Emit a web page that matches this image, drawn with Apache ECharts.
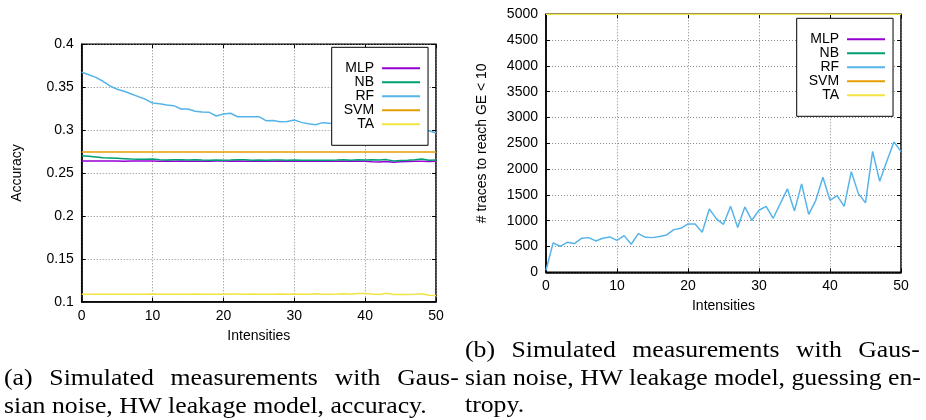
<!DOCTYPE html>
<html>
<head>
<meta charset="utf-8">
<title>Accuracy / GE</title>
<script src="https://cdn.jsdelivr.net/npm/echarts@6/dist/echarts.min.js"></script>
<style>
    body{margin:0;background:#fff;}
    #tb{position:absolute;left:0;top:0;width:926px;height:420px;}
    .cap{position:absolute;width:406px;font-family:"Liberation Serif",serif;font-size:23px;line-height:27.5px;color:#000;transform:scaleX(1.12);transform-origin:0 0;}
    .cap .j{text-align:justify;text-align-last:justify;white-space:nowrap;}
    .cap .l{text-align:left;white-space:nowrap;}
</style>
</head>
<body>
<div id="tb"></div>
<div class="cap" style="left:4px;top:364px;">
    <div class="j">(a) Simulated measurements with Gaus-</div>
    <div class="l">sian noise, HW leakage model, accuracy.</div>
</div>
<div class="cap" style="left:465px;top:336px;">
    <div class="j">(b) Simulated measurements with Gaus-</div>
    <div class="j">sian noise, HW leakage model, guessing en-</div>
    <div class="l">tropy.</div>
</div>
<script>
// 数据
var intensity = [0,1,2,3,4,5,6,7,8,9,10,11,12,13,14,15,16,17,18,19,20,21,22,23,24,25,26,27,28,29,30,31,32,33,34,35,36,37,38,39,40,41,42,43,44,45,46,47,48,49,50];
var names = ['MLP','NB','RF','SVM','TA'];
var colors = ['#9400d3','#009e73','#56b4e9','#e69f00','#f0e442'];

// (a) accuracy
var mlpAcc = [0.2640,0.2640,0.2639,0.2640,0.2641,0.2640,0.2638,0.2640,0.2641,0.2639,0.2640,0.2638,0.2640,0.2637,0.2639,0.2638,0.2637,0.2636,0.2638,0.2640,0.2639,0.2637,0.2639,0.2638,0.2637,0.2640,0.2638,0.2636,0.2639,0.2638,0.2636,0.2637,0.2638,0.2636,0.2639,0.2637,0.2636,0.2638,0.2637,0.2636,0.2638,0.2632,0.2628,0.2634,0.2624,0.2630,0.2633,0.2636,0.2638,0.2634,0.2637];
var nbAcc = [0.2701,0.2694,0.2686,0.2678,0.2675,0.2671,0.2667,0.2663,0.2660,0.2659,0.2662,0.2655,0.2652,0.2654,0.2653,0.2652,0.2654,0.2651,0.2650,0.2652,0.2649,0.2651,0.2655,0.2653,0.2650,0.2652,0.2649,0.2651,0.2652,0.2650,0.2652,0.2649,0.2650,0.2648,0.2650,0.2649,0.2651,0.2654,0.2650,0.2655,0.2651,0.2653,0.2652,0.2656,0.2640,0.2646,0.2648,0.2655,0.2663,0.2648,0.2652];
var rfAcc = [0.3674,0.3646,0.3615,0.3569,0.3514,0.3476,0.3452,0.3421,0.3390,0.3359,0.3316,0.3308,0.3293,0.3285,0.3246,0.3246,0.3219,0.3211,0.3207,0.3164,0.3188,0.3196,0.3156,0.3156,0.3156,0.3156,0.3110,0.3113,0.3098,0.3100,0.3118,0.3090,0.3075,0.3063,0.3087,0.3080,0.3074,0.3068,0.3060,0.3055,0.3048,0.3040,0.3035,0.3028,0.3020,0.3015,0.3010,0.3004,0.2998,0.2993,0.2966];
var svmAcc = [0.2745,0.2745,0.2745,0.2745,0.2745,0.2745,0.2745,0.2745,0.2745,0.2745,0.2745,0.2745,0.2745,0.2745,0.2745,0.2745,0.2745,0.2745,0.2745,0.2745,0.2745,0.2745,0.2745,0.2745,0.2745,0.2745,0.2745,0.2745,0.2745,0.2745,0.2745,0.2745,0.2745,0.2745,0.2745,0.2745,0.2745,0.2745,0.2745,0.2745,0.2745,0.2745,0.2745,0.2745,0.2745,0.2745,0.2745,0.2745,0.2745,0.2745,0.2745];
var taAcc = [0.1088,0.1088,0.1088,0.1087,0.1087,0.1088,0.1088,0.1087,0.1088,0.1088,0.1089,0.1088,0.1086,0.1087,0.1088,0.1088,0.1089,0.1088,0.1087,0.1087,0.1088,0.1090,0.1089,0.1088,0.1089,0.1087,0.1086,0.1088,0.1090,0.1087,0.1089,0.1088,0.1086,0.1093,0.1087,0.1088,0.1090,0.1093,0.1086,0.1096,0.1096,0.1090,0.1085,0.1099,0.1084,0.1084,0.1085,0.1088,0.1092,0.1076,0.1072];

// (b) traces to reach GE < 10
var mlpGE = [5000,5000,5000,5000,5000,5000,5000,5000,5000,5000,5000,5000,5000,5000,5000,5000,5000,5000,5000,5000,5000,5000,5000,5000,5000,5000,5000,5000,5000,5000,5000,5000,5000,5000,5000,5000,5000,5000,5000,5000,5000,5000,5000,5000,5000,5000,5000,5000,5000,5000,5000];
var nbGE = [5000,5000,5000,5000,5000,5000,5000,5000,5000,5000,5000,5000,5000,5000,5000,5000,5000,5000,5000,5000,5000,5000,5000,5000,5000,5000,5000,5000,5000,5000,5000,5000,5000,5000,5000,5000,5000,5000,5000,5000,5000,5000,5000,5000,5000,5000,5000,5000,5000,5000,5000];
var rfGE = [40,570,504,581,556,659,672,608,659,686,620,711,543,750,678,672,692,724,827,853,938,938,775,1228,1035,930,1279,866,1267,1008,1202,1279,1047,1331,1616,1190,1713,1124,1395,1841,1395,1486,1279,1951,1525,1345,2345,1763,2151,2527,2339];
var svmGE = [5000,5000,5000,5000,5000,5000,5000,5000,5000,5000,5000,5000,5000,5000,5000,5000,5000,5000,5000,5000,5000,5000,5000,5000,5000,5000,5000,5000,5000,5000,5000,5000,5000,5000,5000,5000,5000,5000,5000,5000,5000,5000,5000,5000,5000,5000,5000,5000,5000,5000,5000];
var taGE = [5000,5000,5000,5000,5000,5000,5000,5000,5000,5000,5000,5000,5000,5000,5000,5000,5000,5000,5000,5000,5000,5000,5000,5000,5000,5000,5000,5000,5000,5000,5000,5000,5000,5000,5000,5000,5000,5000,5000,5000,5000,5000,5000,5000,5000,5000,5000,5000,5000,5000,5000];

var xTicks = [0,10,20,30,40,50];

var FONT = 'Liberation Sans';

function pairs(ys){
    var out = [];
    for(var i=0;i<intensity.length;i++){
        out.push([intensity[i], ys[i]]);
    }
    return out;
}

function xAx(gi, main){
    return {
        type:'value', gridIndex:gi, min:xTicks[0], max:xTicks[xTicks.length-1], interval:10,
        position: main ? 'bottom' : 'top',
        name: main ? 'Intensities' : '', nameLocation:'middle', nameGap:27,
        nameTextStyle:{fontFamily:FONT, fontSize:14, color:'#000'},
        axisLine:{show:main, onZero:false, lineStyle:{color:'#000', width:1.5}},
        axisTick:{show:true, inside:true, length:4, lineStyle:{color:'#000'}},
        axisLabel:{show:main, margin:7, fontFamily:FONT, fontSize:14, color:'#000'},
        splitLine:{show:main, lineStyle:{color:'#888', type:[1,2], width:1}}
    };
}
function yAx(gi, main, min, max, step, title, gap, fmt){
    return {
        type:'value', gridIndex:gi, min:min, max:max, interval:step,
        position: main ? 'left' : 'right',
        name: main ? title : '', nameLocation:'middle', nameGap:gap,
        nameTextStyle:{fontFamily:FONT, fontSize:14, color:'#000'},
        axisLine:{show:main, onZero:false, lineStyle:{color:'#000', width:1.5}},
        axisTick:{show:true, inside:true, length:4, lineStyle:{color:'#000'}},
        axisLabel:{show:main, margin:8, fontFamily:FONT, fontSize:14, color:'#000', formatter:fmt},
        splitLine:{show:main, lineStyle:{color:'#888', type:[1,2], width:1}}
    };
}
function legendAt(l, t){
    return {
        orient:'vertical', left:l, top:t, align:'right', icon:'rect',
        itemWidth:38, itemHeight:2, itemGap:0,
        padding:[14,8,14,12],
        backgroundColor:'#fff', borderColor:'#000', borderWidth:1,
        textStyle:{fontFamily:FONT, fontSize:14, color:'#000', lineHeight:14, padding:[0,3,0,0]},
        data:names
    };
}
function line(name, idx, gi, ys){
    return {
        type:'line', name:name, xAxisIndex:gi*2, yAxisIndex:gi*2,
        data:pairs(ys), showSymbol:false, symbol:'none',
        lineStyle:{width:1.5, color:colors[idx]}, itemStyle:{color:colors[idx]},
        emphasis:{disabled:true}
    };
}

var myChart = echarts.init(document.getElementById('tb'), null, {renderer:'canvas'});
var option = {
    animation:false,
    color:colors,
    grid:[
        {left:81.7, top:44.3, width:354.3, height:257.4, show:true, borderColor:'#000', borderWidth:1.5, outerBoundsMode:'none'},
        {left:546, top:14.3, width:355, height:258, show:true, borderColor:'#000', borderWidth:1.5, outerBoundsMode:'none'}
    ],
    xAxis:[xAx(0,true), xAx(0,false), xAx(1,true), xAx(1,false)],
    yAxis:[
        yAx(0,true,0.1,0.4,0.05,'Accuracy',58,function(v){return String(+v.toFixed(2));}),
        yAx(0,false,0.1,0.4,0.05,'',0,null),
        yAx(1,true,0,5000,500,'# traces to reach GE < 10',57,function(v){return String(v);}),
        yAx(1,false,0,5000,500,'',0,null)
    ],
    legend:[legendAt(331.7,47.3), legendAt(796.7,18.3)],
    series:[
        line('MLP',0,0,mlpAcc), line('NB',1,0,nbAcc), line('RF',2,0,rfAcc), line('SVM',3,0,svmAcc), line('TA',4,0,taAcc),
        line('MLP',0,1,mlpGE), line('NB',1,1,nbGE), line('RF',2,1,rfGE), line('SVM',3,1,svmGE), line('TA',4,1,taGE)
    ]
};
myChart.setOption(option);
</script>
</body>
</html>
